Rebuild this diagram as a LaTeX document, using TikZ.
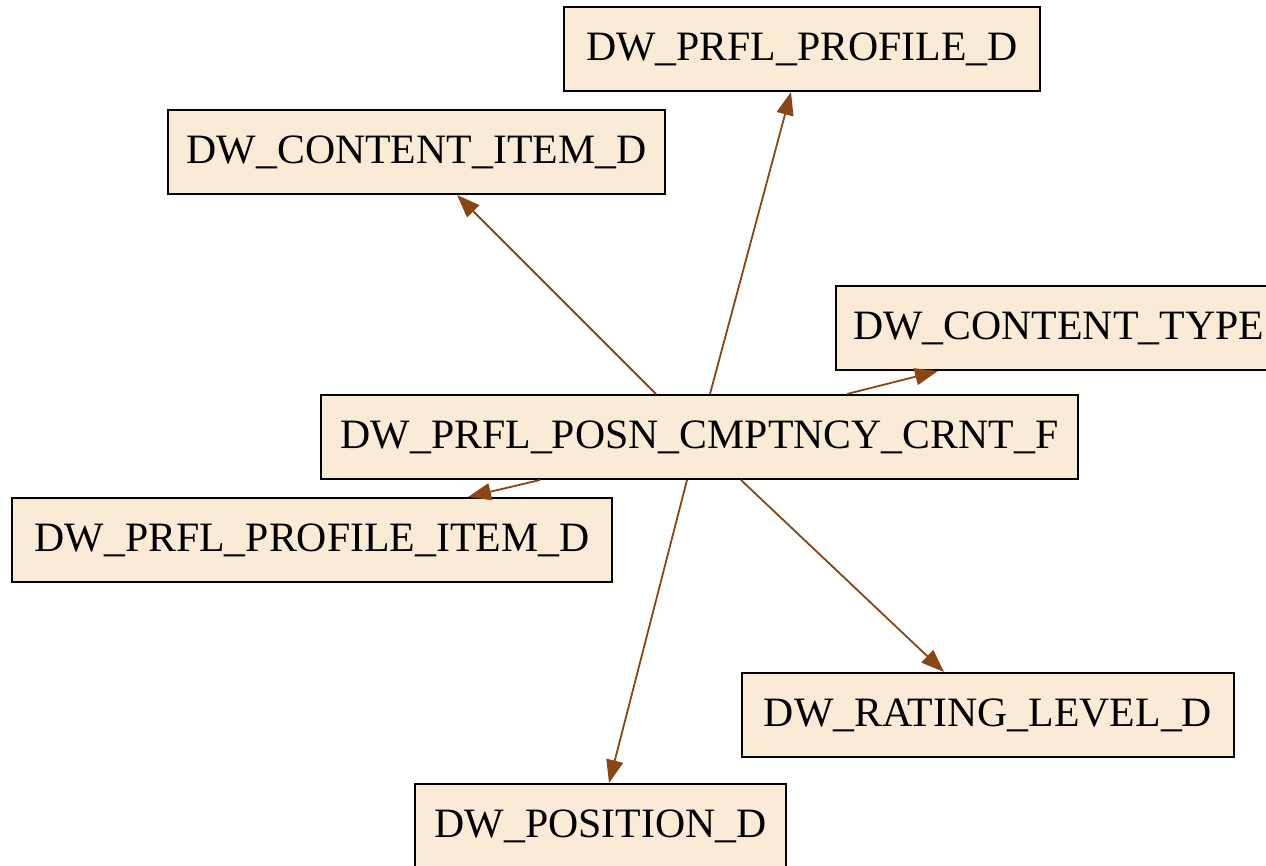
\documentclass[tikz,border=0pt]{standalone}
\usepackage{fontspec}
\setmainfont{Liberation Serif}
\usetikzlibrary{arrows.meta,calc}
\definecolor{boxfill}{HTML}{FAEBD7}
\definecolor{edgecol}{HTML}{8B4513}
\begin{document}
\begin{tikzpicture}[x=1pt,y=-1pt,
  tbl/.style={draw=black,fill=boxfill,line width=2pt,minimum height=84pt,inner sep=0pt,
    font=\fontsize{41.8pt}{46pt}\selectfont},
  rel/.style={draw=edgecol,line width=1.8pt,-{Triangle[length=23pt,width=17pt,fill=edgecol]}}]
\useasboundingbox (0,0) rectangle (1266,866);
\clip (0,0) rectangle (1266,866);
\node[tbl,minimum width=476pt] (pp) at (802,49) {DW\_PRFL\_PROFILE\_D};
\node[tbl,minimum width=497pt] (ci) at (416.5,152) {DW\_CONTENT\_ITEM\_D};
\node[tbl,anchor=west,minimum width=520pt,text width=486pt,align=left] (ct) at (835,328) {DW\_CONTENT\_TYPE};
\node[tbl,minimum width=757pt] (f) at (699.5,437) {DW\_PRFL\_POSN\_CMPTNCY\_CRNT\_F};
\node[tbl,minimum width=600pt] (pi) at (312,540) {DW\_PRFL\_PROFILE\_ITEM\_D};
\node[tbl,minimum width=492pt] (rl) at (988,715) {DW\_RATING\_LEVEL\_D};
\node[tbl,minimum width=371pt] (pos) at (600.5,826) {DW\_POSITION\_D};
\draw[rel] ($(f.north west)+(336,0)$) -- ($(ci.south west)+(290,0)$);
\draw[rel] ($(f.north west)+(390,0)$) -- ($(pp.south west)+(228,0)$);
\draw[rel] ($(f.north west)+(527,0)$) -- ($(ct.south west)+(103,0)$);
\draw[rel] ($(f.south west)+(220,0)$) -- ($(pi.north west)+(457,0)$);
\draw[rel] ($(f.south west)+(367,0)$) -- ($(pos.north west)+(195,0)$);
\draw[rel] ($(f.south west)+(421,0)$) -- ($(rl.north west)+(203,0)$);
\end{tikzpicture}
\end{document}
